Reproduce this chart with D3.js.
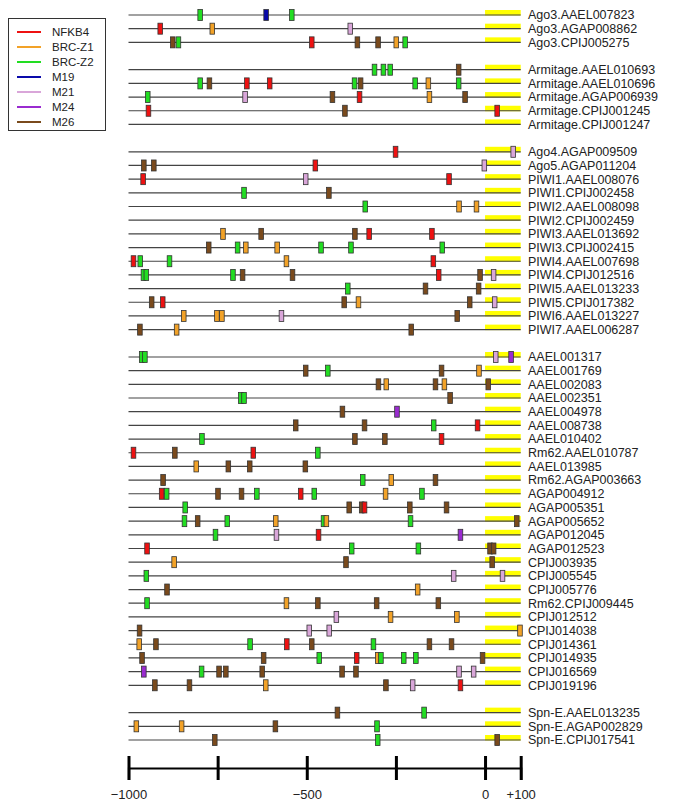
<!DOCTYPE html>
<html>
  <head>
    <meta charset="utf-8">
    <title></title>
    <script type="text/javascript" src="https://d3js.org/d3.v7.min.js"></script>
    <style media="screen">
      body { margin: 0; background: #fff; }
      text { font-family: "Liberation Sans", Arial, sans-serif; fill: #222; }
    </style>
  </head>
  <body>
    <div class="vis">
    </div>
    <script type="text/javascript">
      // motif keys -> names / colours
      var motifKeys = ["R", "O", "G", "B", "P", "V", "N"];
      var motifNames = ["NFKB4", "BRC-Z1", "BRC-Z2", "M19", "M21", "M24", "M26"];
      var motifColors = ["#ee1111", "#f2a228", "#22dd22", "#0a0aaa", "#d9a6d9", "#9a2bd0", "#7a4a1c"];

      // genes in plotting order, "" marks a blank row between groups
      var genes = [
        "Ago3.AAEL007823", "Ago3.AGAP008862", "Ago3.CPIJ005275", "",
        "Armitage.AAEL010693", "Armitage.AAEL010696", "Armitage.AGAP006939", "Armitage.CPIJ001245", "Armitage.CPIJ001247", "",
        "Ago4.AGAP009509", "Ago5.AGAP011204", "PIWI1.AAEL008076", "PIWI1.CPIJ002458", "PIWI2.AAEL008098", "PIWI2.CPIJ002459",
        "PIWI3.AAEL013692", "PIWI3.CPIJ002415", "PIWI4.AAEL007698", "PIWI4.CPIJ012516", "PIWI5.AAEL013233", "PIWI5.CPIJ017382",
        "PIWI6.AAEL013227", "PIWI7.AAEL006287", "",
        "AAEL001317", "AAEL001769", "AAEL002083", "AAEL002351", "AAEL004978", "AAEL008738", "AAEL010402", "Rm62.AAEL010787",
        "AAEL013985", "Rm62.AGAP003663", "AGAP004912", "AGAP005351", "AGAP005652", "AGAP012045", "AGAP012523", "CPIJ003935",
        "CPIJ005545", "CPIJ005776", "Rm62.CPIJ009445", "CPIJ012512", "CPIJ014038", "CPIJ014361", "CPIJ014935", "CPIJ016569",
        "CPIJ019196", "",
        "Spn-E.AAEL013235", "Spn-E.AGAP002829", "Spn-E.CPIJ017541"
      ];

      // motif hits per gene (same order as genes), [key, position relative to TSS]
      var sites = [
        [["G", -799], ["B", -614], ["G", -542]],
        [["R", -911], ["O", -765], ["P", -378]],
        [["N", -876], ["G", -860], ["R", -486], ["N", -358], ["N", -300], ["O", -249], ["G", -224]],
        null,
        [["G", -310], ["G", -285], ["G", -266], ["N", -74]],
        [["G", -799], ["N", -773], ["R", -668], ["R", -604], ["G", -366], ["N", -349], ["G", -196], ["O", -159], ["G", -74]],
        [["G", -946], ["P", -673], ["N", -428], ["R", -352], ["O", -156], ["N", -56]],
        [["R", -944], ["N", -393], ["R", 34]],
        [],
        null,
        [["R", -251], ["P", 79]],
        [["N", -957], ["N", -929], ["R", -476], ["P", -2]],
        [["R", -959], ["P", -503], ["R", -101]],
        [["G", -676], ["N", -438]],
        [["G", -336], ["O", -73], ["O", -24]],
        [],
        [["O", -735], ["N", -628], ["N", -365], ["R", -325], ["R", -149]],
        [["N", -775], ["G", -694], ["O", -671], ["O", -583], ["G", -460], ["G", -376], ["G", -120]],
        [["R", -986], ["G", -967], ["G", -885], ["O", -557], ["R", -145]],
        [["G", -958], ["G", -950], ["G", -707], ["N", -680], ["N", -540], ["R", -130], ["N", -14], ["P", 24]],
        [["G", -385], ["N", -167], ["N", -18]],
        [["N", -935], ["R", -904], ["N", -395], ["O", -355], ["N", -43], ["P", 27]],
        [["O", -845], ["O", -752], ["O", -738], ["P", -571], ["N", -78]],
        [["N", -968], ["O", -865], ["N", -207]],
        null,
        [["G", -963], ["G", -954], ["P", 30], ["V", 73]],
        [["N", -503], ["G", -441], ["N", -122], ["O", -17]],
        [["N", -299], ["O", -277], ["N", -139], ["O", -114], ["N", 9]],
        [["G", -685], ["G", -676], ["N", -98]],
        [["N", -400], ["V", -247]],
        [["N", -531], ["N", -338], ["G", -144], ["R", -21]],
        [["G", -794], ["N", -365], ["N", -281], ["R", -122]],
        [["R", -986], ["N", -870], ["R", -650], ["G", -469]],
        [["O", -810], ["N", -720], ["N", -660], ["N", -504]],
        [["N", -903], ["G", -343], ["O", -263], ["N", -139]],
        [["R", -907], ["G", -893], ["N", -749], ["N", -683], ["G", -640], ["R", -517], ["G", -479], ["O", -279], ["G", -177]],
        [["G", -841], ["N", -381], ["N", -346], ["R", -338], ["N", -211], ["N", -108]],
        [["G", -843], ["N", -806], ["G", -723], ["O", -587], ["G", -453], ["O", -445], ["G", -209], ["N", 89]],
        [["G", -756], ["P", -585], ["R", -467], ["V", -69]],
        [["R", -948], ["G", -374], ["G", -187], ["N", 14], ["N", 24]],
        [["O", -872], ["N", -390], ["N", 20]],
        [["G", -950], ["P", -88], ["P", 49]],
        [["N", -892], ["O", -189]],
        [["G", -948], ["O", -557], ["N", -469], ["N", -304], ["N", -131]],
        [["P", -417], ["O", -265], ["O", -79]],
        [["N", -969], ["P", -493], ["P", -437], ["O", 98]],
        [["O", -970], ["N", -923], ["G", -659], ["R", -556], ["N", -486], ["G", -313], ["N", -156], ["N", -94]],
        [["N", -962], ["N", -621], ["G", -465], ["R", -360], ["O", -301], ["G", -292], ["G", -228], ["G", -194], ["N", -7]],
        [["V", -957], ["G", -795], ["N", -746], ["N", -727], ["N", -625], ["N", -401], ["N", -362], ["P", -73], ["P", -32]],
        [["N", -926], ["N", -829], ["O", -615], ["N", -278], ["P", -203], ["R", -69]],
        null,
        [["N", -414], ["G", -171]],
        [["O", -978], ["O", -851], ["N", -588], ["G", -303]],
        [["N", -758], ["G", -301], ["N", 34]]
      ];

      var tickValues = [-1000, -750, -500, -250, 0, 100];
      var tickLabels = {"-1000": "\u22121000", "-500": "\u2212500", "0": "0", "100": "+100"};

      var w = 685;
      var h = 810;

      var xscale = d3.scaleLinear()
        .domain([-1000, 100])
        .range([128.5, 520.7]);
      var yscale = d3.scaleLinear()
        .domain([0, genes.length - 1])
        .range([15, 740]);
      var color = d3.scaleOrdinal()
        .domain(motifKeys)
        .range(motifColors);

      var svg = d3.select('.vis')
        .append('svg')
        .attr('width', w)
        .attr('height', h);

      var rows = genes.map(function(g, i) {
        return {name: g, idx: i, hits: sites[i]};
      }).filter(function(d) { return d.name !== ""; });

      var row = svg.selectAll('g.row')
        .data(rows)
        .enter()
        .append('g')
        .attr('class', 'row')
        .attr('transform', function(d) { return 'translate(0,' + yscale(d.idx) + ')'; });

      // yellow 5'UTR box
      row.append('rect')
        .attr('x', xscale(0))
        .attr('y', -5)
        .attr('width', xscale(100) - xscale(0))
        .attr('height', 5.5)
        .attr('fill', '#ffff00');

      row.append('line')
        .attr('x1', xscale(-1000))
        .attr('x2', xscale(100))
        .attr('stroke', '#444')
        .attr('stroke-width', 1.2);

      row.selectAll('rect.hit')
        .data(function(d) { return d.hits; })
        .enter()
        .append('rect')
        .attr('class', 'hit')
        .attr('x', function(d) { return xscale(d[1]) - 2.3; })
        .attr('y', -5.5)
        .attr('width', 4.6)
        .attr('height', 11)
        .attr('fill', function(d) { return color(d[0]); })
        .attr('stroke', '#333')
        .attr('stroke-width', 0.8);

      row.append('text')
        .attr('x', 528)
        .attr('y', 0)
        .attr('dy', '0.35em')
        .style('font-size', '12.5px')
        .text(function(d) { return d.name; });

      // axis
      var xAxis = d3.axisBottom()
        .scale(xscale)
        .tickValues(tickValues)
        .tickSizeOuter(0)
        .tickSize(12)
        .tickPadding(10)
        .tickFormat(function(d) { return tickLabels[d] || ""; });

      var ax = svg.append('g')
        .attr('class', 'axis')
        .attr('transform', 'translate(0,768)')
        .call(xAxis);
      ax.select('.domain').attr('stroke', '#000').attr('stroke-width', 2.2);
      ax.selectAll('.tick line')
        .attr('y1', -12)
        .attr('stroke', '#000')
        .attr('stroke-width', 3);
      ax.selectAll('.tick text')
        .attr('font-family', null)
        .style('font-size', '13px')
        .style('fill', '#222');

      // legend
      var legend = svg.append('g').attr('class', 'legend');
      legend.append('rect')
        .attr('x', 8.5)
        .attr('y', 18.5)
        .attr('width', 97)
        .attr('height', 112)
        .attr('fill', '#fff')
        .attr('stroke', '#333');
      var li = legend.selectAll('g.item')
        .data(motifNames)
        .enter()
        .append('g')
        .attr('class', 'item')
        .attr('transform', function(d, i) { return 'translate(0,' + (32 + i * 15) + ')'; });
      li.append('line')
        .attr('x1', 17)
        .attr('x2', 41)
        .attr('stroke', function(d, i) { return motifColors[i]; })
        .attr('stroke-width', 2);
      li.append('text')
        .attr('x', 52)
        .attr('dy', '0.35em')
        .style('font-size', '11.5px')
        .text(function(d) { return d; });
    </script>
  </body>
</html>
